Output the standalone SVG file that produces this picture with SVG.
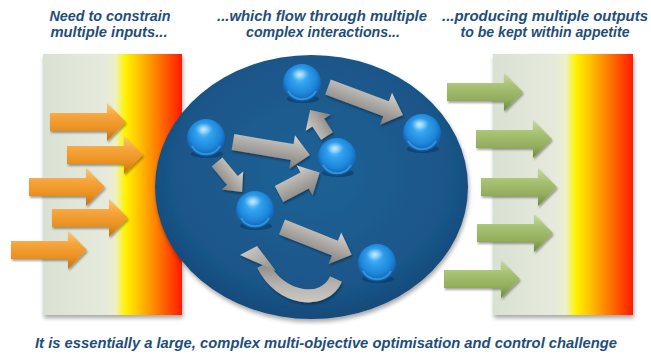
<svg xmlns="http://www.w3.org/2000/svg" width="651" height="360" viewBox="0 0 651 360">
  <defs>
    <style>
      .hdr { font-family: "Liberation Sans", Arial, sans-serif; font-weight: bold; font-style: italic; font-size: 14px; fill: #1f4e79; text-anchor: middle; }
      .foot { font-family: "Liberation Sans", Arial, sans-serif; font-weight: bold; font-style: italic; font-size: 14px; fill: #1f4e79; text-anchor: middle; }
    </style>
    <linearGradient id="heat" x1="0" y1="0" x2="1" y2="0">
      <stop offset="0" stop-color="#d9e1d2"/>
      <stop offset="0.45" stop-color="#e6eadd"/>
      <stop offset="0.52" stop-color="#edf0c8"/>
      <stop offset="0.59" stop-color="#fff300"/>
      <stop offset="0.7" stop-color="#ffbe00"/>
      <stop offset="0.84" stop-color="#ff7200"/>
      <stop offset="1" stop-color="#ff1a00"/>
    </linearGradient>
    <linearGradient id="orange" x1="0" y1="0" x2="0" y2="1">
      <stop offset="0" stop-color="#fbc677"/>
      <stop offset="0.35" stop-color="#f5a43a"/>
      <stop offset="0.7" stop-color="#ea9020"/>
      <stop offset="1" stop-color="#c46f10"/>
    </linearGradient>
    <linearGradient id="green" x1="0" y1="0" x2="0" y2="1">
      <stop offset="0" stop-color="#c8daa0"/>
      <stop offset="0.35" stop-color="#a6c172"/>
      <stop offset="0.7" stop-color="#92ae5c"/>
      <stop offset="1" stop-color="#6d8a3a"/>
    </linearGradient>
    <linearGradient id="grey" x1="0" y1="0" x2="0" y2="1">
      <stop offset="0" stop-color="#d6d2ce"/>
      <stop offset="0.4" stop-color="#b3afab"/>
      <stop offset="1" stop-color="#817d7a"/>
    </linearGradient>
    <linearGradient id="greyArc" gradientUnits="userSpaceOnUse" x1="0" y1="262" x2="0" y2="306">
      <stop offset="0" stop-color="#8a8683"/>
      <stop offset="0.5" stop-color="#b5b1ad"/>
      <stop offset="1" stop-color="#d0ccc8"/>
    </linearGradient>
    <linearGradient id="greyHead" x1="0" y1="0" x2="1" y2="1">
      <stop offset="0" stop-color="#d4d0cc"/>
      <stop offset="1" stop-color="#928e8a"/>
    </linearGradient>
    <radialGradient id="pool" cx="0.5" cy="0.45" r="0.55">
      <stop offset="0" stop-color="#1f6296"/>
      <stop offset="0.8" stop-color="#1a5689"/>
      <stop offset="1" stop-color="#144a7a"/>
    </radialGradient>
    <radialGradient id="ball" cx="0.5" cy="0.42" r="0.58" fx="0.42" fy="0.3">
      <stop offset="0" stop-color="#7fd2ff"/>
      <stop offset="0.3" stop-color="#34a4f0"/>
      <stop offset="0.7" stop-color="#1d86da"/>
      <stop offset="0.9" stop-color="#1566b4"/>
      <stop offset="1" stop-color="#0e4b8c"/>
    </radialGradient>
    <radialGradient id="shine" cx="0.5" cy="0.5" r="0.5">
      <stop offset="0" stop-color="#ffffff" stop-opacity="0.6"/>
      <stop offset="1" stop-color="#ffffff" stop-opacity="0"/>
    </radialGradient>
    <filter id="shadow" x="-10%" y="-10%" width="125%" height="130%">
      <feDropShadow dx="1" dy="3" stdDeviation="2" flood-color="#000" flood-opacity="0.35"/>
    </filter>
    <filter id="soft" x="-20%" y="-20%" width="140%" height="150%">
      <feDropShadow dx="1" dy="2" stdDeviation="1.2" flood-color="#000" flood-opacity="0.35"/>
    </filter>
    <!-- horizontal block arrow, tail at x=0, tip at x=76 -->
    <path id="blk" d="M0,-9 H57 V-19 L76,0 L57,19 V9 H0 Z"/>
    <g id="sphere">
      <ellipse cx="1" cy="16" rx="16" ry="4" fill="#0a2f52" opacity="0.5"/>
      <circle r="19" fill="url(#ball)"/>
      <path d="M-14,8 A16,16 0 0 0 14,8" fill="none" stroke="#48b4f4" stroke-width="2" opacity="0.55"/>
      <ellipse cx="-2" cy="-9" rx="9" ry="6" fill="url(#shine)"/>
    </g>
  </defs>

  <rect width="651" height="360" fill="#ffffff"/>

  <!-- headings -->
  <g id="headings">
    <text class="hdr" x="110" y="21" textLength="121" lengthAdjust="spacingAndGlyphs">Need to constrain</text>
    <text class="hdr" x="109" y="37" textLength="117" lengthAdjust="spacingAndGlyphs">multiple inputs...</text>
    <text class="hdr" x="322" y="21" textLength="210" lengthAdjust="spacingAndGlyphs">...which flow through multiple</text>
    <text class="hdr" x="323" y="37" textLength="154" lengthAdjust="spacingAndGlyphs">complex interactions...</text>
    <text class="hdr" x="545" y="21" textLength="206" lengthAdjust="spacingAndGlyphs">...producing multiple outputs</text>
    <text class="hdr" x="545" y="37" textLength="169" lengthAdjust="spacingAndGlyphs">to be kept within appetite</text>
  </g>

  <!-- heat panels -->
  <g id="input-limit">
    <rect x="43" y="54" width="139" height="261" fill="url(#heat)" filter="url(#shadow)"/>
  </g>
  <g id="output-limit">
    <rect x="493" y="54" width="140" height="261" fill="url(#heat)" filter="url(#shadow)"/>
  </g>

  <!-- system of interactions -->
  <g id="system">
    <ellipse cx="311.5" cy="187" rx="156.5" ry="132" fill="url(#pool)" filter="url(#shadow)"/>
  </g>

  <!-- inputs -->
  <g id="inputs" fill="url(#orange)" filter="url(#soft)">
    <use href="#blk" transform="translate(50,122)"/>
    <use href="#blk" transform="translate(67,155)"/>
    <use href="#blk" transform="translate(29,187)"/>
    <use href="#blk" transform="translate(52,218)"/>
    <use href="#blk" transform="translate(11,250)"/>
  </g>

  <!-- outputs -->
  <g id="outputs" fill="url(#green)" filter="url(#soft)">
    <use href="#blk" transform="translate(447,92)"/>
    <use href="#blk" transform="translate(476,139)"/>
    <use href="#blk" transform="translate(481,187)"/>
    <use href="#blk" transform="translate(477,233)"/>
    <use href="#blk" transform="translate(444,279)"/>
  </g>

  <!-- interaction connectors -->
  <g id="connectors" fill="url(#grey)" filter="url(#soft)">
    <path transform="translate(233,142) rotate(9.6)" d="M0,-8 H60 V-17 L78,0 L60,17 V8 H0 Z"/>
    <path transform="translate(328,87) rotate(20.5)" d="M0,-8 H62 V-17 L80,0 L62,17 V8 H0 Z"/>
    <path transform="translate(327,136) rotate(-123)" d="M0,-7 H16 V-15 L31,0 L16,15 V7 H0 Z"/>
    <path transform="translate(217,162) rotate(50)" d="M0,-7 H24 V-14 L39,0 L24,14 V7 H0 Z"/>
    <path transform="translate(279,194) rotate(-27.7)" d="M0,-9 H29 V-17 L46,0 L29,17 V9 H0 Z"/>
    <path transform="translate(282,227) rotate(21.8)" d="M0,-8 H57 V-17 L75,0 L57,17 V8 H0 Z"/>
    <g id="feedback">
      <path d="M336,279 C324,306 280,300 263,265" fill="none" stroke="url(#greyArc)" stroke-width="13"/>
      <path d="M240,255 L257,246 L276,271 Z" fill="url(#greyHead)"/>
    </g>
  </g>

  <!-- nodes -->
  <g id="node-1"><use href="#sphere" transform="translate(206,138)"/></g>
  <g id="node-2"><use href="#sphere" transform="translate(302,83)"/></g>
  <g id="node-3"><use href="#sphere" transform="translate(422,133)"/></g>
  <g id="node-4"><use href="#sphere" transform="translate(337,157)"/></g>
  <g id="node-5"><use href="#sphere" transform="translate(255,210)"/></g>
  <g id="node-6"><use href="#sphere" transform="translate(377,263)"/></g>

  <g id="caption">
    <text class="foot" x="326" y="348" textLength="582" lengthAdjust="spacingAndGlyphs">It is essentially a large, complex multi-objective optimisation and control challenge</text>
  </g>
</svg>
